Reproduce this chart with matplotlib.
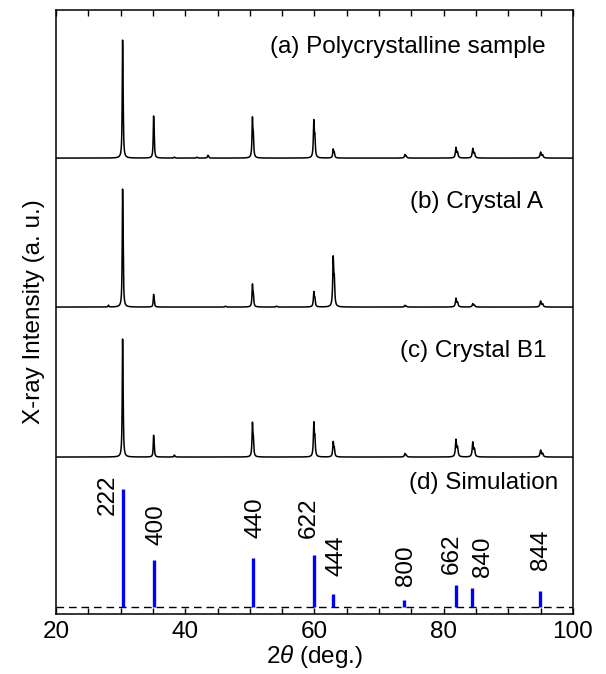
import numpy as np
import matplotlib
matplotlib.use("Agg")
import matplotlib.pyplot as plt

plt.rcParams['font.family'] = ['Liberation Sans', 'DejaVu Sans']
plt.rcParams['mathtext.fontset'] = 'custom'
plt.rcParams['mathtext.it'] = 'Liberation Sans:italic'
plt.rcParams['mathtext.rm'] = 'Liberation Sans'

# --- peak lists (2theta in deg, relative intensity) ---
pos_a = [30.3, 35.1, 38.3, 41.8, 43.5, 50.4, 59.9, 62.9, 74.0, 81.9, 84.5, 95.0]
int_a = [100, 36.4, 0.8, 0.8, 2.5, 37.3, 35.6, 8.5, 3.4, 10.2, 9.3, 5.9]

pos_b = [28.1, 30.3, 35.1, 46.2, 50.4, 54.1, 59.9, 62.9, 74.0, 81.9, 84.5, 95.0]
int_b = [1.5, 100, 11, 0.8, 21, 0.8, 14.4, 47.5, 1.7, 8.5, 3.4, 5.9]

pos_c = [30.3, 35.1, 38.3, 50.4, 59.9, 62.9, 74.0, 81.9, 84.5, 95.0]
int_c = [100, 18.8, 1.7, 31.6, 32.5, 14.5, 3.4, 17, 14.5, 6.8]

# simulated reflections
hkl = ['222', '400', '440', '622', '444', '800', '662', '840', '844']
sim_pos = [30.3, 35.1, 50.45, 60.0, 62.8, 73.9, 81.85, 84.45, 94.9]
sim_int = [100, 40, 41.5, 44, 11, 6, 18.6, 16, 13.6]

# label anchor positions (x in deg, bottom of text above baseline)
lab_x = [28.0, 35.6, 50.9, 59.1, 63.4, 74.1, 81.2, 86.1, 95.1]
lab_y = [92, 62, 69, 69, 31, 21, 33, 30, 37]

panel_names = ['(a) Polycrystalline sample', '(b) Crystal A', '(c) Crystal B1', '(d) Simulation']
offsets = [449, 300, 150, 0]
label_y = [560, 405, 256, 124]
label_x = [95.85, 95.4, 95.85, 97.7]
scale = 118
fs = 17.5

x = np.arange(20, 100.001, 0.005)


def pattern(pos, amp):
    y = np.zeros_like(x)
    for p, a in zip(pos, amp):
        w = 0.12 + 0.0015 * (p - 30)
        d2 = np.degrees(2 * np.tan(np.radians(p / 2)) * 0.00249)
        y += a / (1 + ((x - p) / (w / 2)) ** 2)
        y += 0.5 * a / (1 + ((x - p - d2) / (w / 2)) ** 2)
    return y / y.max() * scale


fig = plt.figure(figsize=(6.06, 6.74), dpi=100)
ax = fig.add_axes([0.0924, 0.089, 0.853, 0.896])

for (pos, amp), off in zip([(pos_a, int_a), (pos_b, int_b), (pos_c, int_c)], offsets[:3]):
    ax.plot(x, pattern(pos, amp) + off, color='black', lw=1.1)

# simulation bars
sim_h = np.array(sim_int) / max(sim_int) * scale
ax.vlines(sim_pos, 0, sim_h, color='#0000ff', lw=2.4)
ax.axhline(0, color='black', lw=1.0, linestyle=(0, (5.5, 3.5)))
for t, lx, ly in zip(hkl, lab_x, lab_y):
    ax.text(lx, ly, t, rotation=90, ha='center', va='bottom', fontsize=fs)

for name, tx, ty in zip(panel_names, label_x, label_y):
    ax.text(tx, ty, name, ha='right', va='center', fontsize=fs)

ax.set_xlim(20, 100)
ax.set_ylim(-7, 597)
ax.set_yticks([])
ax.set_xticks([20, 40, 60, 80, 100])
ax.set_xticks(np.arange(20, 101, 5), minor=True)
ax.tick_params(axis='x', which='both', direction='in', top=True, length=4.5, width=1,
               labelsize=fs, pad=5)
for s in ax.spines.values():
    s.set_linewidth(1.1)

ax.set_xlabel(r'2$\it{\theta}$ (deg.)', fontsize=fs, labelpad=0)
ax.set_ylabel('X-ray Intensity (a. u.)', fontsize=fs, labelpad=8)

fig.savefig('out.png', dpi=100)
